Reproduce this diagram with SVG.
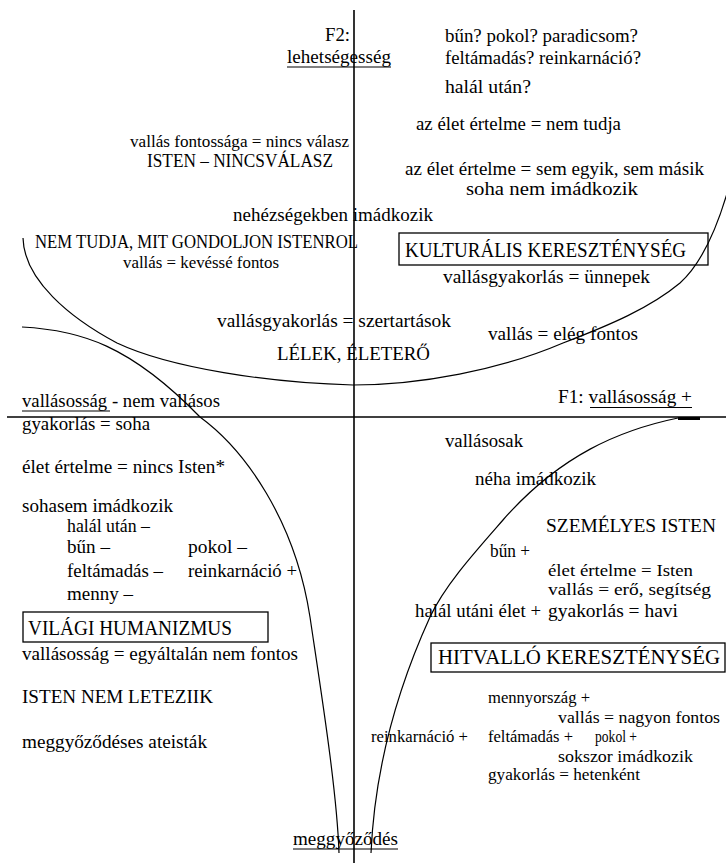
<svg xmlns="http://www.w3.org/2000/svg" width="726" height="863" viewBox="0 0 726 863" font-family="Liberation Serif, serif">
<style>
text{font-family:"Liberation Serif",serif;fill:#000;}
.t{font-size:18px;}
.s{font-size:16px;}
.c{font-size:19px;}
.b{font-size:20px;}
.n{font-size:17px;}
.ax{stroke:#000;stroke-width:1.6;fill:none;}
.cv{stroke:#000;stroke-width:1.2;fill:none;}
.bx{stroke:#000;stroke-width:1.3;fill:none;}
.ul{stroke:#000;stroke-width:1;}
</style>
<rect width="726" height="863" fill="#fff"/>
<g id="connectors">
<line class="ax" x1="354" y1="10" x2="354" y2="863"/>
<line class="ax" x1="7" y1="417" x2="726" y2="417"/>
<path class="cv" d="M23,238 C24,280 70,318 117,343 C170,368 270,383 353,385 C420,385 500,370 563,343 C610,325 650,308 680,283 C700,265 715,235 728,190"/>
<path class="cv" d="M22,327 C80,330 130,345 200,417 C245,450 295,520 310,617 C320,685 337,790 339,853"/>
<path class="cv" d="M678,418 C620,430 560,455 503,520 C475,552 445,585 430,617 C415,650 376,740 371,853"/>
<line x1="678" y1="418.5" x2="700" y2="418.5" stroke="#000" stroke-width="3"/>
</g>
<g id="axis-f2">
<text class="c" x="325" y="41" textLength="25" lengthAdjust="spacingAndGlyphs">F2:</text>
<text class="t" x="287" y="63" textLength="104" lengthAdjust="spacingAndGlyphs">lehetségesség</text>
<line class="ul" x1="287" y1="67" x2="391" y2="67"/>
</g>
<g id="axis-f1">
<text class="t" x="558" y="403" textLength="134" lengthAdjust="spacingAndGlyphs">F1: vallásosság +</text>
<line class="ul" x1="590" y1="407.5" x2="692" y2="407.5"/>
</g>
<g id="axis-neg">
<text class="t" x="22" y="407" textLength="198" lengthAdjust="spacingAndGlyphs">vallásosság - nem vallásos</text>
<line class="ul" x1="22" y1="411" x2="110" y2="411"/>
</g>
<g id="axis-bottom">
<text class="t" x="293" y="845" textLength="105" lengthAdjust="spacingAndGlyphs">meggyőződés</text>
<line class="ul" x1="293" y1="849" x2="398" y2="849"/>
</g>
<g id="q-top-right">
<text class="t" x="445" y="42" textLength="193" lengthAdjust="spacingAndGlyphs">bűn? pokol? paradicsom?</text>
<text class="t" x="445" y="64" textLength="196" lengthAdjust="spacingAndGlyphs">feltámadás? reinkarnáció?</text>
<text class="t" x="445" y="93" textLength="86" lengthAdjust="spacingAndGlyphs">halál után?</text>
<text class="t" x="416" y="130" textLength="205" lengthAdjust="spacingAndGlyphs">az élet értelme = nem tudja</text>
<text class="t" x="405" y="175" textLength="299" lengthAdjust="spacingAndGlyphs">az élet értelme = sem egyik, sem másik</text>
<text class="t" x="466" y="195" textLength="172" lengthAdjust="spacingAndGlyphs">soha nem imádkozik</text>
</g>
<g id="q-top-left">
<text class="s" x="130" y="147" textLength="219" lengthAdjust="spacingAndGlyphs">vallás fontossága = nincs válasz</text>
<text class="c" x="147" y="167" textLength="186" lengthAdjust="spacingAndGlyphs">ISTEN – NINCSVÁLASZ</text>
<text class="t" x="233" y="221" textLength="200" lengthAdjust="spacingAndGlyphs">nehézségekben imádkozik</text>
<text class="c" x="35" y="248" textLength="323" lengthAdjust="spacingAndGlyphs">NEM TUDJA, MIT GONDOLJON ISTENROL</text>
<text class="s" x="123" y="268" textLength="156" lengthAdjust="spacingAndGlyphs">vallás = kevéssé fontos</text>
<text class="t" x="217" y="327" textLength="234" lengthAdjust="spacingAndGlyphs">vallásgyakorlás = szertartások</text>
<text class="c" x="277" y="360" textLength="153" lengthAdjust="spacingAndGlyphs">LÉLEK, ÉLETERŐ</text>
</g>
<g id="kulturalis">
<rect class="bx" x="399" y="233" width="309" height="32"/>
<text class="b" x="405" y="257" textLength="281" lengthAdjust="spacingAndGlyphs">KULTURÁLIS KERESZTÉNYSÉG</text>
<text class="t" x="443" y="283" textLength="207" lengthAdjust="spacingAndGlyphs">vallásgyakorlás = ünnepek</text>
<text class="t" x="488" y="340" textLength="150" lengthAdjust="spacingAndGlyphs">vallás = elég fontos</text>
</g>
<g id="q-bottom-left">
<text class="t" x="22" y="430" textLength="128" lengthAdjust="spacingAndGlyphs">gyakorlás = soha</text>
<text class="t" x="22" y="473" textLength="203" lengthAdjust="spacingAndGlyphs">élet értelme = nincs Isten*</text>
<text class="t" x="22" y="512" textLength="151" lengthAdjust="spacingAndGlyphs">sohasem imádkozik</text>
<text class="t" x="67" y="532" textLength="83" lengthAdjust="spacingAndGlyphs">halál után –</text>
<text class="t" x="67" y="553" textLength="43" lengthAdjust="spacingAndGlyphs">bűn –</text>
<text class="t" x="188" y="553" textLength="59" lengthAdjust="spacingAndGlyphs">pokol –</text>
<text class="t" x="67" y="577" textLength="96" lengthAdjust="spacingAndGlyphs">feltámadás –</text>
<text class="t" x="188" y="577" textLength="109" lengthAdjust="spacingAndGlyphs">reinkarnáció +</text>
<text class="t" x="67" y="600" textLength="66" lengthAdjust="spacingAndGlyphs">menny –</text>
</g>
<g id="vilagi">
<rect class="bx" x="23" y="612" width="245" height="30"/>
<text class="b" x="28" y="635" textLength="204" lengthAdjust="spacingAndGlyphs">VILÁGI HUMANIZMUS</text>
<text class="t" x="22" y="660" textLength="276" lengthAdjust="spacingAndGlyphs">vallásosság = egyáltalán nem fontos</text>
<text class="c" x="22" y="703" textLength="191" lengthAdjust="spacingAndGlyphs">ISTEN NEM LETEZIIK</text>
<text class="t" x="22" y="748" textLength="185" lengthAdjust="spacingAndGlyphs">meggyőződéses ateisták</text>
</g>
<g id="szemelyes">
<text class="t" x="445" y="447" textLength="78" lengthAdjust="spacingAndGlyphs">vallásosak</text>
<text class="t" x="475" y="485" textLength="121" lengthAdjust="spacingAndGlyphs">néha imádkozik</text>
<text class="c" x="546" y="532" textLength="170" lengthAdjust="spacingAndGlyphs">SZEMÉLYES ISTEN</text>
<text class="t" x="490" y="557" textLength="40" lengthAdjust="spacingAndGlyphs">bűn +</text>
<text class="n" x="548" y="576" textLength="145" lengthAdjust="spacingAndGlyphs">élet értelme = Isten</text>
<text class="n" x="548" y="595" textLength="163" lengthAdjust="spacingAndGlyphs">vallás = erő, segítség</text>
<text class="t" x="415" y="617" textLength="126" lengthAdjust="spacingAndGlyphs">halál utáni élet +</text>
<text class="t" x="548" y="617" textLength="130" lengthAdjust="spacingAndGlyphs">gyakorlás = havi</text>
</g>
<g id="hitvallo">
<rect class="bx" x="431" y="643" width="294" height="29"/>
<text class="b" x="438" y="664" textLength="282" lengthAdjust="spacingAndGlyphs">HITVALLÓ KERESZTÉNYSÉG</text>
<text class="s" x="488" y="703" textLength="102" lengthAdjust="spacingAndGlyphs">mennyország +</text>
<text class="s" x="558" y="723" textLength="162" lengthAdjust="spacingAndGlyphs">vallás = nagyon fontos</text>
<text class="s" x="371" y="742" textLength="97" lengthAdjust="spacingAndGlyphs">reinkarnáció +</text>
<text class="s" x="488" y="742" textLength="85" lengthAdjust="spacingAndGlyphs">feltámadás +</text>
<text class="s" x="595" y="742" textLength="42" lengthAdjust="spacingAndGlyphs">pokol +</text>
<text class="s" x="558" y="762" textLength="135" lengthAdjust="spacingAndGlyphs">sokszor imádkozik</text>
<text class="s" x="488" y="780" textLength="152" lengthAdjust="spacingAndGlyphs">gyakorlás = hetenként</text>
</g>
</svg>
